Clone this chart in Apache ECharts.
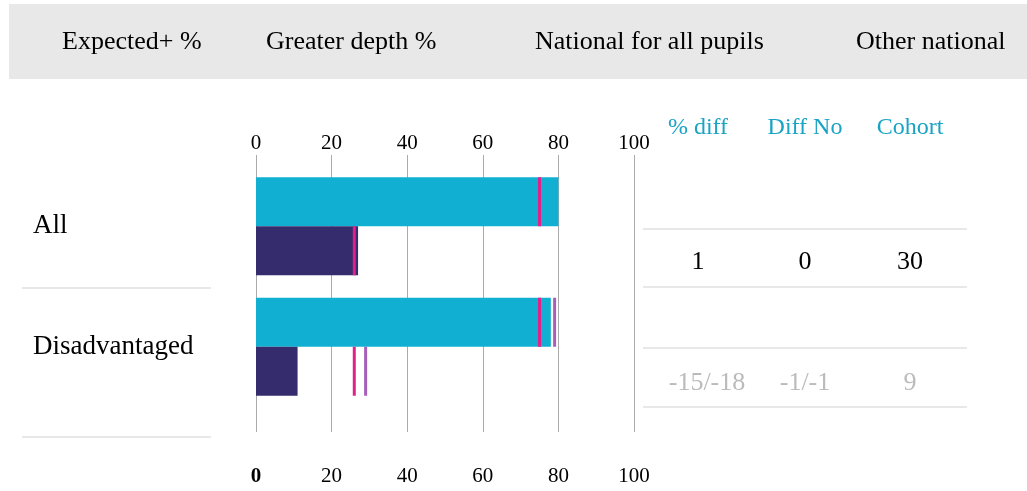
<!DOCTYPE html>
<html>
<head>
<meta charset="utf-8">
<script src="https://cdn.jsdelivr.net/npm/echarts@6/dist/echarts.min.js"></script>
<style>
  html, body { margin: 0; padding: 0; background: #fff; }
  #main { width: 1027px; height: 491px; }
</style>
</head>
<body>
<div id="main"></div>
<script>
const groups = ['All', 'Disadvantaged']
const expected = [80, 78]
const greaterDepth = [27, 11]
const nationalExpected = [75, 75]
const nationalGreater = [26, 26]
const otherExpected = [null, 79]
const otherGreater = [null, 29]
const legendNames = ['Expected+ %', 'Greater depth %', 'National for all pupils', 'Other national']
const tableHeaders = ['% diff', 'Diff No', 'Cohort']
const tableRows = [['1', '0', '30'], ['-15/-18', '-1/-1', '9']]

const FONT = 'Liberation Serif'
const CYAN = '#11b0d2'
const NAVY = '#342c6c'
const MAGENTA = '#e2208b'
const PURPLE = '#a65fb9'
const TEAL = '#19a3c4'

const chart = echarts.init(document.getElementById('main'))

// marker points on the category axis
function markers(values) {
  return values.map((v, i) => v == null ? null : [v, i]).filter(d => d)
}

// header band + right-hand table
const legendX = [62, 266, 535, 856]
const colX = [[698, 805, 910], [707, 805, 910]]
const rowY = [262, 383]
const lineY = [229, 287, 348, 407]
const graphics = [{
  type: 'rect', shape: {x: 9, y: 4, width: 1018, height: 75},
  style: {fill: '#e8e8e8'}, silent: true
}]
legendNames.forEach((name, i) => {
  graphics.push({
    type: 'text', x: legendX[i], y: 42,
    style: {text: name, font: '26px "' + FONT + '"', fill: '#000', verticalAlign: 'middle'}
  })
})
tableHeaders.forEach((h, i) => {
  graphics.push({
    type: 'text', x: colX[0][i], y: 128,
    style: {text: h, font: '24px "' + FONT + '"', fill: TEAL, align: 'center', verticalAlign: 'middle'}
  })
})
tableRows.forEach((row, r) => {
  row.forEach((cell, i) => {
    graphics.push({
      type: 'text', x: colX[r][i], y: rowY[r],
      style: {
        text: cell, font: '26px "' + FONT + '"',
        fill: r === 0 ? '#000' : '#bbb', align: 'center', verticalAlign: 'middle'
      }
    })
  })
})
lineY.forEach(y => {
  graphics.push({
    type: 'line', shape: {x1: 643, y1: y, x2: 967, y2: y},
    style: {stroke: '#e8e8e8', lineWidth: 2}, silent: true
  })
})
;[288, 437].forEach(y => {
  graphics.push({
    type: 'line', shape: {x1: 22, y1: y, x2: 211, y2: y},
    style: {stroke: '#e8e8e8', lineWidth: 2}, silent: true
  })
})

const option = {
  animation: false,
  backgroundColor: '#fff',
  textStyle: {fontFamily: FONT},
  graphic: graphics,
  grid: [{
    left: 256, width: 378, top: 155, height: 277
  }, {
    left: 256, width: 378, top: 166, height: 241
  }],
  xAxis: [{
    type: 'value', gridIndex: 0, position: 'top', min: 0, max: 100, interval: 20,
    axisLine: {show: false}, axisTick: {show: false},
    axisLabel: {fontSize: 21, color: '#000', margin: 1, fontFamily: FONT},
    splitLine: {lineStyle: {color: '#aaa', width: 1}}
  }, {
    type: 'value', gridIndex: 0, position: 'bottom', min: 0, max: 100, interval: 20,
    axisLine: {show: false}, axisTick: {show: false}, splitLine: {show: false},
    axisLabel: {
      fontSize: 21, color: '#000', margin: 34, fontFamily: FONT,
      formatter: v => v === 0 ? '{b|0}' : String(v),
      rich: {b: {fontSize: 21, fontWeight: 'bold', fontFamily: FONT, color: '#000'}}
    }
  }, {
    type: 'value', gridIndex: 1, min: 0, max: 100, show: false
  }],
  yAxis: [{
    type: 'value', gridIndex: 0, show: false
  }, {
    type: 'category', gridIndex: 1, data: groups, inverse: true,
    axisLine: {show: false}, axisTick: {show: false}, splitLine: {show: false},
    axisLabel: {align: 'left', margin: 223, fontSize: 27, color: '#000', fontFamily: FONT}
  }],
  series: [{
    name: legendNames[0], type: 'bar', xAxisIndex: 2, yAxisIndex: 1,
    data: expected, barWidth: 49, barGap: '0%',
    itemStyle: {color: CYAN}
  }, {
    name: legendNames[1], type: 'bar', xAxisIndex: 2, yAxisIndex: 1,
    data: greaterDepth, barWidth: 49, barGap: '0%',
    itemStyle: {color: NAVY}
  }, {
    name: legendNames[2], type: 'scatter', xAxisIndex: 2, yAxisIndex: 1,
    data: markers(nationalExpected), symbol: 'rect', symbolSize: [3, 49],
    symbolOffset: [0, -24.5], itemStyle: {color: MAGENTA, opacity: 1}, z: 5
  }, {
    name: legendNames[2], type: 'scatter', xAxisIndex: 2, yAxisIndex: 1,
    data: markers(nationalGreater), symbol: 'rect', symbolSize: [3, 49],
    symbolOffset: [0, 24.5], itemStyle: {color: MAGENTA, opacity: 1}, z: 5
  }, {
    name: legendNames[3], type: 'scatter', xAxisIndex: 2, yAxisIndex: 1,
    data: markers(otherExpected), symbol: 'rect', symbolSize: [3, 49],
    symbolOffset: [0, -24.5], itemStyle: {color: PURPLE, opacity: 1}, z: 5
  }, {
    name: legendNames[3], type: 'scatter', xAxisIndex: 2, yAxisIndex: 1,
    data: markers(otherGreater), symbol: 'rect', symbolSize: [3, 49],
    symbolOffset: [0, 24.5], itemStyle: {color: PURPLE, opacity: 1}, z: 5
  }]
}

chart.setOption(option)
</script>
</body>
</html>
